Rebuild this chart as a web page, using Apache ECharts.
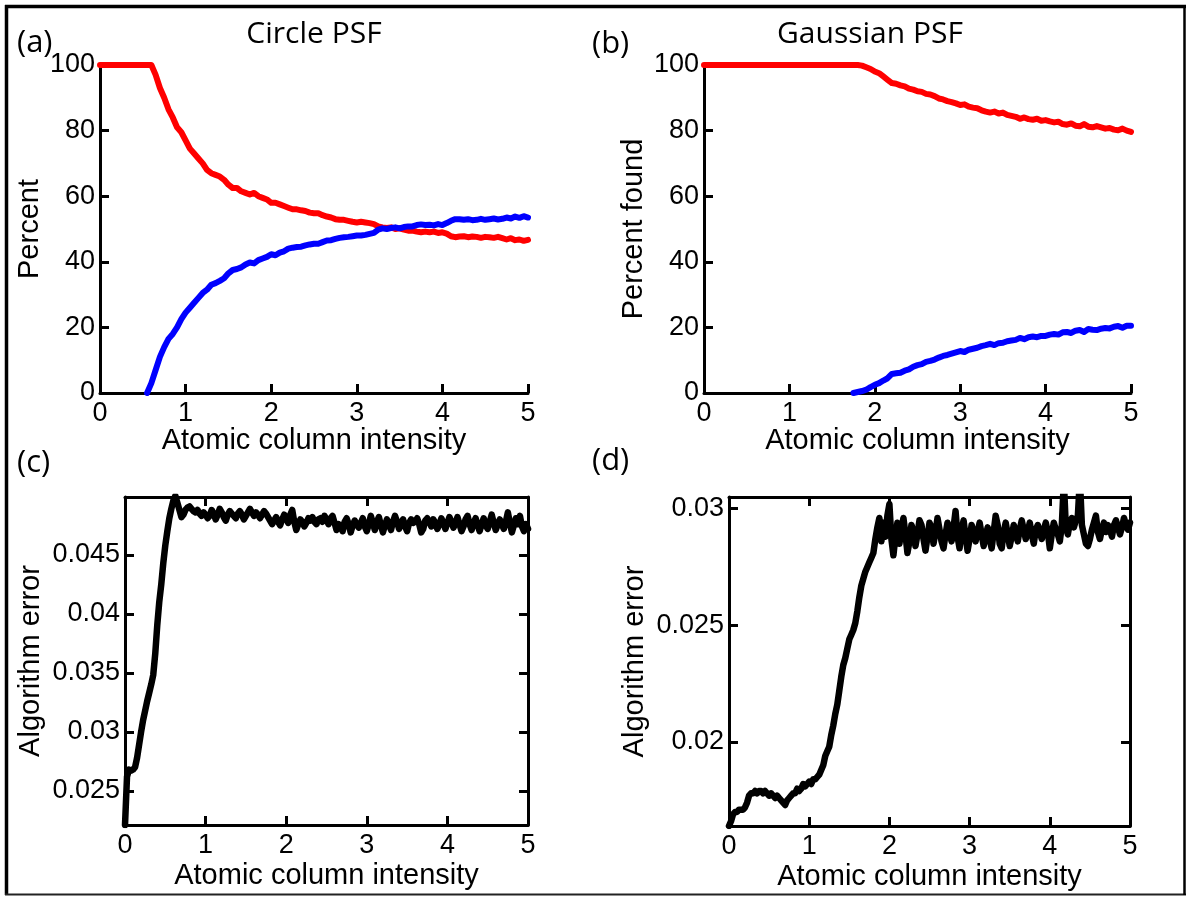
<!DOCTYPE html>
<html><head><meta charset="utf-8">
<script src="https://cdn.jsdelivr.net/npm/echarts@6/dist/echarts.min.js"></script>
<style>html,body{margin:0;padding:0;background:#fff}#c{width:1188px;height:897px}</style>
</head><body><div id="c"></div>
<script>
// ---- data ----
const xTicks = [0, 1, 2, 3, 4, 5];
const pctTicks = [0, 20, 40, 60, 80, 100];
const errTicksC = [0.025, 0.03, 0.035, 0.04, 0.045];
const errTicksD = [0.02, 0.025, 0.03];
const stepAB = 0.05;   // sample spacing of panels (a),(b)
const stepCD = 0.025;  // sample spacing of panels (c),(d)

// (a) Circle PSF, percent
const redA = [100,100,100,100,100,100,100,100,100,100,100,100,100,
97,93,90,86.5,84,81,79.5,77,74.5,73,71.5,70,68,67,66.5,66,65,63.5,62.5,62.5,61.5,61,60.5,61,60,59.5,59,
58,58,57.5,57,56.5,56,56,55.7,55.5,55,54.8,54.8,54.2,53.8,53.5,53,52.8,52.8,52.5,52.2,
52,52.2,52,51.8,51.5,50.8,50.5,50.3,50.5,50,50.2,49.8,49.5,49.5,49.2,49,49.2,49,49.2,48.8,
49,48.6,47.8,47.5,47.7,47.8,47.5,47.7,47.6,47.3,47.6,47.5,47.3,47.6,47.2,46.8,47.2,46.6,46.8,46.4,46.7];
const blueA = [null,null,null,null,null,null,null,null,null,null,null,0,
3,7,11,14,16.5,18,20,22.5,24.5,26,27.5,29,30.5,31.5,33,33.5,34.2,35,36.5,37.5,37.8,38.3,39.2,39.8,39.5,40.5,41,41.5,
42.3,42,42.8,43.2,44,44.3,44.5,44.6,45,45.3,45.5,45.5,46,46.5,46.6,47,47.3,47.5,47.6,47.8,
48,48,48.2,48.5,48.8,49.8,50.2,50,50.3,50.5,50.2,50.6,50.8,50.8,51.2,51.4,51.2,51.3,51.1,51.5,
51.2,51.8,52.5,53,53,52.8,53,52.7,52.8,53.1,52.8,53,53.2,52.9,53.1,53.5,53.2,53.8,53.4,53.9,53.5];

// (b) Gaussian PSF, percent found
const redB = [100,100,100,100,100,100,100,100,100,100,100,100,100,100,100,100,100,100,100,100,
100,100,100,100,100,100,100,100,100,100,100,100,100,100,100,100,100,
99.8,99.3,98.8,98,97.5,96.5,95.5,94.5,94.3,93.8,93.5,92.8,92.5,92,91.8,91.2,91,90.5,89.8,89.5,89,88.7,88.3,
87.8,88,87.3,87,86.8,86.2,85.8,85.5,85.8,85.2,85.5,84.8,84.5,84.2,83.6,84,83.5,83.3,83.6,83,
83.2,82.8,82.5,82.7,82,81.8,82.2,81.5,81.3,82,81.2,81,81.4,81,80.6,80.8,80.3,80.1,80.6,80,79.6];
const blueB = [null,null,null,null,null,null,null,null,null,null,null,null,null,null,null,null,null,null,
null,null,null,null,null,null,null,null,null,null,null,null,null,null,null,null,null,0,
0.3,0.6,1,1.8,2.5,3,3.8,4.5,5.8,6,6.2,6.8,7.2,8,8.5,8.8,9.5,9.8,10.2,10.8,11.3,11.6,12,12.4,
12.8,12.5,13.2,13.5,13.8,14.3,14.6,15,14.6,15.2,15.3,15.8,16,16.2,16.8,16.4,17,17.2,17,17.4,
17.4,17.8,18,17.8,18.5,18.6,18.3,19,19.2,18.6,19.5,19.3,19.2,19.6,19.8,19.7,20.2,20.4,19.9,20.5,20.5];

// (c) Circle PSF, algorithm error
const errC = [0.0221,0.0262,0.0268,0.0267,0.0268,0.0270,0.0278,0.0289,0.0300,0.0310,0.0318,0.0326,0.0333,
0.0340,0.0348,0.0366,0.0390,0.0410,0.0425,0.0443,0.0458,0.0470,0.0481,0.0489,0.0496,0.0500,
0.0494,0.0488,0.0482,0.0484,0.0488,0.0490,0.0491,0.0489,
0.0487,0.0486,0.0488,0.0485,0.0483,0.0486,0.0484,0.0481,
0.0483,0.0488,0.0485,0.0480,0.0484,0.0489,0.0486,0.0482,
0.0479,0.0484,0.0487,0.0485,0.0483,0.0481,0.0485,0.0487,
0.0484,0.0480,0.0483,0.0486,0.0489,0.0486,0.0483,0.0486,
0.0484,0.0481,0.0484,0.0487,0.0485,0.0482,0.0479,0.0476,
0.0479,0.0482,0.0478,0.0475,0.0480,0.0484,0.0481,0.0477,
0.0484,0.0488,0.0478,0.0471,0.0476,0.0480,0.0478,0.0474,
0.0477,0.0481,0.0479,0.0482,0.0478,0.0476,0.0480,0.0481,
0.0478,0.0483,0.0480,0.0476,0.0481,0.0483,0.0477,0.0471,
0.0476,0.0474,0.0470,0.0478,0.0481,0.0476,0.0469,0.0475,
0.0479,0.0476,0.0473,0.0477,0.0481,0.0474,0.0470,0.0476,
0.0483,0.0477,0.0471,0.0478,0.0482,0.0475,0.0469,0.0475,
0.0480,0.0476,0.0471,0.0478,0.0483,0.0478,0.0472,0.0477,
0.0480,0.0474,0.0470,0.0477,0.0480,0.0477,0.0478,0.0481,
0.0476,0.0469,0.0472,0.0479,0.0481,0.0478,0.0474,0.0480,
0.0477,0.0472,0.0476,0.0481,0.0477,0.0472,0.0477,0.0482,
0.0478,0.0473,0.0477,0.0482,0.0476,0.0470,0.0474,0.0480,
0.0483,0.0476,0.0471,0.0477,0.0481,0.0475,0.0470,0.0476,
0.0481,0.0475,0.0472,0.0478,0.0484,0.0477,0.0471,0.0476,
0.0480,0.0476,0.0472,0.0478,0.0486,0.0477,0.0469,0.0475,
0.0481,0.0476,0.0483,0.0474,0.0470,0.0476,0.0472];

// (d) Gaussian PSF, algorithm error
const errD = [0.0164,0.0166,0.0169,0.0170,0.0170,0.0171,0.0171,0.0171,0.0172,0.0174,0.0177,0.0178,0.0178,
0.0179,0.0178,0.0179,0.0179,0.0178,0.0179,0.0178,0.0177,0.0178,0.0177,0.0176,0.0177,0.0176,0.0175,
0.0174,0.0173,0.0175,0.0176,0.0177,0.0178,0.0178,0.0180,0.0179,0.0180,0.0182,0.0181,0.0182,0.0183,
0.0182,0.0184,0.0184,0.0185,0.0186,0.0188,0.0190,0.0194,0.0196,0.0198,0.0203,0.0207,0.0212,0.0216,
0.0222,0.0228,0.0233,0.0236,0.0240,0.0244,0.0246,0.0248,0.0251,0.0256,0.0262,0.0267,0.0270,0.0273,
0.0275,0.0277,0.0279,0.0281,0.0287,0.0292,
0.0296,0.0286,0.0294,0.0288,0.0297,0.0302,0.0287,0.0280,
0.0288,0.0294,0.0285,0.0291,0.0296,0.0289,0.0281,0.0286,
0.0293,0.0290,0.0284,0.0289,0.0295,0.0293,0.0287,0.0282,
0.0288,0.0294,0.0292,0.0285,0.0290,0.0296,0.0291,0.0286,
0.0283,0.0289,0.0294,0.0290,0.0286,0.0292,0.0299,0.0288,
0.0283,0.0291,0.0295,0.0288,0.0282,0.0287,0.0293,0.0290,
0.0286,0.0290,0.0294,0.0289,0.0284,0.0288,0.0292,0.0287,
0.0283,0.0290,0.0297,0.0293,0.0285,0.0283,0.0290,0.0294,
0.0289,0.0284,0.0288,0.0293,0.0290,0.0286,0.0291,0.0295,
0.0291,0.0287,0.0290,0.0294,0.0289,0.0285,0.0291,0.0293,
0.0290,0.0287,0.0291,0.0294,0.0290,0.0283,0.0289,0.0294,
0.0291,0.0289,0.0286,0.0293,0.0312,0.0292,0.0289,0.0294,
0.0296,0.0292,0.0295,0.0297,0.0313,0.0293,0.0289,0.0285,
0.0284,0.0287,0.0291,0.0294,0.0297,0.0290,0.0287,0.0291,
0.0294,0.0290,0.0293,0.0291,0.0288,0.0293,0.0295,0.0292,
0.0289,0.0292,0.0296,0.0293,0.0291,0.0294];

// ---- chart ----
const AX = '"Liberation Sans", Arial, sans-serif';
const TF = '"Open Sans", sans-serif';
const pairs = (arr, step) => arr.map((v, i) => [+(i * step).toFixed(3), v]);

const lineSt = { color: '#000', width: 3 };
const tick = (extra) => Object.assign({ show: true, inside: true, length: 9, lineStyle: { color: '#000', width: 3 } }, extra || {});
const lbl = (extra) => Object.assign({ show: true, color: '#000', fontFamily: AX, fontSize: 27 }, extra || {});
const nameSt = { color: '#000', fontFamily: AX, fontSize: 29 };

function bottomX(grid, gap) {
  return {
    type: 'value', gridIndex: grid, position: 'bottom', min: xTicks[0], max: xTicks[xTicks.length - 1], interval: 1,
    axisLine: { show: true, onZero: false, lineStyle: lineSt },
    axisTick: tick(), splitLine: { show: false },
    axisLabel: lbl({ margin: 7, showMinLabel: true, showMaxLabel: true, hideOverlap: false }),
    name: 'Atomic column intensity', nameLocation: 'middle', nameGap: gap, nameTextStyle: nameSt, nameMoveOverlap: false
  };
}
function topX(grid) {
  return {
    type: 'value', gridIndex: grid, position: 'top', min: 0, max: 5, interval: 1,
    axisLine: { show: true, onZero: false, lineStyle: lineSt },
    axisTick: tick(), splitLine: { show: false }, axisLabel: { show: false }
  };
}
function leftYPct(grid, name, gap) {
  return {
    type: 'value', gridIndex: grid, position: 'left', min: pctTicks[0], max: pctTicks[pctTicks.length - 1], interval: 20,
    axisLine: { show: true, onZero: false, lineStyle: lineSt },
    axisTick: tick(), splitLine: { show: false },
    axisLabel: lbl({ margin: 5, showMinLabel: true, showMaxLabel: true, hideOverlap: false }),
    name: name, nameLocation: 'middle', nameRotate: 90, nameGap: gap, nameTextStyle: nameSt, nameMoveOverlap: false
  };
}
function leftYErr(grid, min, max, ticks, gap) {
  return {
    type: 'value', gridIndex: grid, position: 'left', min: min, max: max,
    axisLine: { show: true, onZero: false, lineStyle: lineSt },
    axisTick: tick({ customValues: ticks }), splitLine: { show: false },
    axisLabel: lbl({ margin: 5, customValues: ticks, hideOverlap: false, formatter: v => String(+(+v).toFixed(4)) }),
    name: 'Algorithm error', nameLocation: 'middle', nameRotate: 90, nameGap: gap, nameTextStyle: nameSt, nameMoveOverlap: false
  };
}
function rightYErr(grid, min, max, ticks) {
  return {
    type: 'value', gridIndex: grid, position: 'right', min: min, max: max,
    axisLine: { show: true, onZero: false, lineStyle: lineSt },
    axisTick: tick({ customValues: ticks }), splitLine: { show: false }, axisLabel: { show: false }
  };
}
function ser(xi, yi, data, color, width, clip) {
  return { type: 'line', xAxisIndex: xi, yAxisIndex: yi, data: data, showSymbol: false, symbol: 'none',
    lineStyle: { color: color, width: width, cap: 'round', join: 'round' }, itemStyle: { color: color },
    clip: clip, animation: false, z: 3 };
}

const chart = echarts.init(document.getElementById('c'), null, { renderer: 'canvas' });
chart.setOption({
  animation: false,
  backgroundColor: '#fff',
  grid: [
    { left: 100, top: 65, width: 428, height: 328, containLabel: false, outerBoundsMode: 'none' },
    { left: 704, top: 65, width: 427, height: 328, containLabel: false, outerBoundsMode: 'none' },
    { left: 125, top: 497, width: 403, height: 328, containLabel: false, outerBoundsMode: 'none' },
    { left: 729, top: 497, width: 401, height: 329, containLabel: false, outerBoundsMode: 'none' }
  ],
  xAxis: [bottomX(0, 33), bottomX(1, 33), bottomX(2, 36), topX(2), bottomX(3, 36), topX(3)],
  yAxis: [
    leftYPct(0, 'Percent', 56), leftYPct(1, 'Percent found', 56),
    leftYErr(2, 0.0221, 0.0499, errTicksC, 80), rightYErr(2, 0.0221, 0.0499, errTicksC),
    leftYErr(3, 0.0164, 0.0305, errTicksD, 80), rightYErr(3, 0.0164, 0.0305, errTicksD)
  ],
  series: [
    ser(0, 0, pairs(redA, stepAB), '#ff0000', 6, false),
    ser(0, 0, pairs(blueA, stepAB), '#0000ff', 6, false),
    ser(1, 1, pairs(redB, stepAB), '#ff0000', 6, false),
    ser(1, 1, pairs(blueB, stepAB), '#0000ff', 6, false),
    ser(2, 2, pairs(errC, stepCD), '#000000', 6.5, true),
    ser(4, 4, pairs(errD, stepCD), '#000000', 6.5, true)
  ],
  graphic: [
    { type: 'text', x: 314, y: 34, style: { text: 'Circle PSF', font: '30px ' + TF, fill: '#000', textAlign: 'center', textVerticalAlign: 'middle' } },
    { type: 'text', x: 870, y: 34, style: { text: 'Gaussian PSF', font: '30px ' + TF, fill: '#000', textAlign: 'center', textVerticalAlign: 'middle' } },
    { type: 'text', x: 17, y: 43, style: { text: '(a)', font: '31px ' + TF, fill: '#000', textAlign: 'left', textVerticalAlign: 'middle' } },
    { type: 'text', x: 592, y: 44, style: { text: '(b)', font: '31px ' + TF, fill: '#000', textAlign: 'left', textVerticalAlign: 'middle' } },
    { type: 'text', x: 17, y: 463, style: { text: '(c)', font: '31px ' + TF, fill: '#000', textAlign: 'left', textVerticalAlign: 'middle' } },
    { type: 'text', x: 592, y: 461, style: { text: '(d)', font: '31px ' + TF, fill: '#000', textAlign: 'left', textVerticalAlign: 'middle' } },
    { type: 'line', shape: { x1: 5, y1: 6.5, x2: 1186, y2: 6.5 }, style: { stroke: '#000', lineWidth: 3.5 } },
    { type: 'line', shape: { x1: 6.5, y1: 5, x2: 6.5, y2: 895 }, style: { stroke: '#000', lineWidth: 3.5 } },
    { type: 'line', shape: { x1: 5, y1: 894.5, x2: 1186, y2: 894.5 }, style: { stroke: '#222', lineWidth: 2 } },
    { type: 'line', shape: { x1: 1184.5, y1: 5, x2: 1184.5, y2: 895 }, style: { stroke: '#000', lineWidth: 2.5 } }
  ]
});
</script></body></html>
